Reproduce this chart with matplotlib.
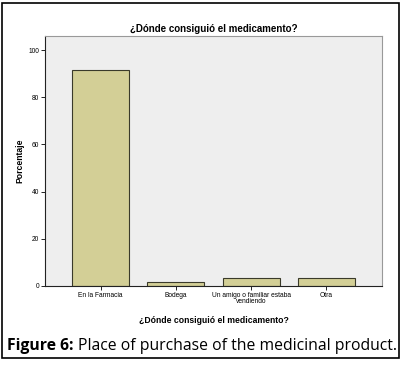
import matplotlib.pyplot as plt
from matplotlib.patches import Rectangle

categories = ["En la Farmacia", "Bodega", "Un amigo o familiar estaba\nvendiendo", "Otra"]
percent = [91.5, 1.7, 3.4, 3.4]
yticks = [0, 20, 40, 60, 80, 100]

W, H = 404, 368
fig = plt.figure(figsize=(W / 100, H / 100), dpi=100)
plt.rcParams['font.family'] = ['Liberation Sans', 'DejaVu Sans']

# outer frame
fig.patches.append(Rectangle((2 / W, 1 - 358 / H), 397 / W, 355 / H, transform=fig.transFigure,
                             fill=False, edgecolor="black", linewidth=1.2))

# plot area in pixels: left 45, top 36, right 382, bottom 286
ax = fig.add_axes([45 / W, 1 - 286 / H, (382 - 45) / W, (286 - 36) / H])
ax.set_facecolor("#eeeeee")
x = range(len(categories))
ax.bar(x, percent, width=0.757, color="#d3cf96", edgecolor="#3a3a2a", linewidth=0.8)
ax.set_xlim(-0.737, 3.737)
ax.set_ylim(0, 106)
ax.set_yticks(yticks)
ax.set_xticks(list(x))
ax.set_xticklabels(categories, fontsize=4.8, linespacing=0.8)
ax.tick_params(axis="y", labelsize=4.8, length=3, width=0.6, pad=1)
ax.tick_params(axis="x", length=3, width=0.6, pad=1.5)
for s in ["top", "right"]:
    ax.spines[s].set_color("#999999")
for s in ["left", "bottom"]:
    ax.spines[s].set_color("#222222")
for s in ax.spines.values():
    s.set_linewidth(0.8)

ax.set_title("¿Dónde consiguió el medicamento?", fontsize=7, fontweight="bold", pad=3)
ax.set_xlabel("¿Dónde consiguió el medicamento?", fontsize=6.2, fontweight="bold", labelpad=8)
ax.set_ylabel("Porcentaje", fontsize=6.2, fontweight="bold", labelpad=3)

cap = fig.text(7 / W, 1 - 346 / H, "Figure 6:", fontsize=11.3, fontweight="bold", va="center",
               family=["Open Sans", "DejaVu Sans"])
fig.canvas.draw()
bb = cap.get_window_extent()
fig.text((bb.x1 + 4) / W, 1 - 346 / H, "Place of purchase of the medicinal product.", fontsize=11.3,
         va="center", family=["Open Sans", "DejaVu Sans"])

fig.savefig("out.png", dpi=100)
